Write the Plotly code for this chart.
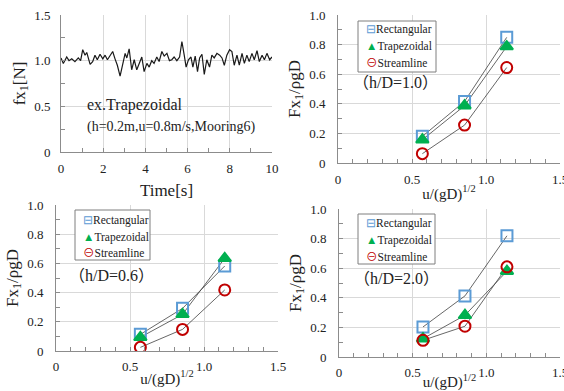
import plotly.graph_objects as go

# ---------------- data ----------------
time_s = [0.00,0.11,0.27,0.38,0.51,0.66,0.82,0.93,1.03,1.14,1.22,1.38,1.50,1.61,1.72,1.85,1.98,2.09,2.20,2.33,
          2.45,2.56,2.67,2.80,2.93,3.04,3.12,3.23,3.35,3.47,3.59,3.72,3.83,3.94,4.07,4.18,4.30,4.41,4.54,4.65,
          4.78,4.89,5.02,5.14,5.25,5.36,5.49,5.62,5.73,5.84,5.93,6.04,6.16,6.25,6.36,6.47,6.57,6.68,6.79,6.91,
          7.04,7.15,7.26,7.39,7.52,7.63,7.74,7.86,7.99,8.10,8.21,8.34,8.45,8.58,8.69,8.81,8.92,9.05,9.16,9.29,
          9.40,9.53,9.64,9.76,9.89,10.00]
fx1 = [1.03,0.97,1.04,1.00,1.02,0.99,1.03,1.00,1.12,1.06,1.09,0.96,0.99,1.06,1.01,1.07,1.02,1.06,1.01,1.06,
       1.10,1.02,0.95,0.83,0.95,1.08,1.03,1.13,0.90,1.01,0.90,0.97,1.04,0.88,0.97,0.93,1.00,0.97,1.04,0.99,
       1.10,1.05,1.08,1.00,1.01,1.04,1.00,1.04,1.21,1.06,0.93,1.01,1.04,0.93,1.05,0.88,1.03,1.07,0.85,1.01,
       0.93,1.06,1.03,1.08,1.06,1.03,0.95,1.06,1.12,1.10,0.95,1.06,0.95,1.08,0.97,1.06,0.99,1.08,1.01,1.11,
       0.99,1.06,1.01,1.08,1.01,1.04]

froude = [0.57, 0.855, 1.14]
series_names = ["Rectangular", "Trapezoidal", "Streamline"]

# h/D = 1.0
hd10_rect = [0.18, 0.416, 0.849]
hd10_trap = [0.157, 0.387, 0.787]
hd10_stream = [0.063, 0.256, 0.645]
# h/D = 0.6
hd06_rect = [0.114, 0.292, 0.582]
hd06_trap = [0.094, 0.251, 0.635]
hd06_stream = [0.025, 0.148, 0.418]
# h/D = 2.0
hd20_rect = [0.203, 0.413, 0.819]
hd20_trap = [0.124, 0.282, 0.58]
hd20_stream = [0.113, 0.208, 0.609]

panel_labels = ["（h/D=1.0）", "（h/D=0.6）", "（h/D=2.0）"]

time_ticks = [0, 2, 4, 6, 8, 10]
time_ticktext = ["0", "2", "4", "6", "8", "10"]
fx_ticks = [0, 0.5, 1.0, 1.5]
fx_ticktext = ["0", "0.5", "1.0", "1.5"]
u_ticks = [0, 0.5, 1.0, 1.5]
u_ticktext = ["0", "0.5", "1.0", "1.5"]
F_ticks = [0, 0.2, 0.4, 0.6, 0.8, 1.0]
F_ticktext = ["0", "0.2", "0.4", "0.6", "0.8", "1.0"]

# ---------------- styling ----------------
W, H = 564, 391
FONT = "Liberation Serif, Times New Roman, Noto Sans CJK JP, serif"
GRID = "#d9d9d9"
AX = "#8c8c8c"
TXT = "#222222"
colors = ["#5b9bd5", "#00b050", "#c00000"]
symbols = ["square-open", "triangle-up", "circle-open"]
legend_glyphs = ["⊟", "▲", "⊖"]


def dom_x(a, b):
    return [a / W, b / W]


def dom_y(top, bottom):
    return [1 - bottom / H, 1 - top / H]


fig = go.Figure()

# time series
fig.add_trace(go.Scatter(x=time_s, y=fx1, mode="lines", line=dict(color="#1a1a1a", width=1.2),
                         showlegend=False, xaxis="x", yaxis="y"))

panels = [
    ("x2", "y2", [hd10_rect, hd10_trap, hd10_stream]),
    ("x3", "y3", [hd06_rect, hd06_trap, hd06_stream]),
    ("x4", "y4", [hd20_rect, hd20_trap, hd20_stream]),
]
for xa, ya, data in panels:
    for vals in data:
        fig.add_trace(go.Scatter(x=froude, y=vals, mode="lines", line=dict(color="#404040", width=0.8),
                                 showlegend=False, xaxis=xa, yaxis=ya, hoverinfo="skip"))
    for i, vals in enumerate(data):
        fig.add_trace(go.Scatter(
            x=froude, y=vals, mode="markers", name=series_names[i], showlegend=False,
            marker=dict(symbol=symbols[i], size=11, color=colors[i],
                        line=dict(color=colors[i], width=2)),
            xaxis=xa, yaxis=ya))

tickfont = dict(family=FONT, size=13, color=TXT)


def axis(domain, rng, tickvals, ticktext, minor_dtick, title, title_size, standoff, anchor, **kw):
    d = dict(domain=domain, range=rng, tickmode="array", tickvals=tickvals, ticktext=ticktext,
             showgrid=True, gridcolor=GRID, gridwidth=1,
             showline=True, linecolor=AX, linewidth=1, ticks="inside", ticklen=4, tickcolor=AX,
             minor=dict(tickmode="linear", tick0=0, dtick=minor_dtick, ticks="inside", ticklen=4,
                        tickcolor=AX, showgrid=False),
             tickfont=tickfont, zeroline=False, anchor=anchor, automargin=False,
             ticklabeloverflow="allow",
             title=dict(text=title, font=dict(family=FONT, size=title_size, color=TXT), standoff=standoff))
    d.update(kw)
    return d


layout = dict(
    width=W, height=H, margin=dict(l=0, r=0, t=0, b=0),
    paper_bgcolor="white", plot_bgcolor="white",
    font=dict(family=FONT, color=TXT),
    showlegend=False,
    xaxis=axis(dom_x(61, 272), [0, 10], time_ticks, time_ticktext, 1, "Time[s]", 17, 9, "y",
               ticklabelstandoff=4),
    yaxis=axis(dom_y(15, 152), [0, 1.5], fx_ticks, fx_ticktext, 0.25, "fx<sub>1</sub>[N]", 17, 4, "x",
               ticklabelstandoff=7),
    xaxis2=axis(dom_x(338, 560), [0, 1.5], u_ticks, u_ticktext, 0.1, "u/(gD)<sup>1/2</sup>", 15, 2, "y2",
                ticklabelstandoff=4),
    yaxis2=axis(dom_y(15, 163), [0, 1.0], F_ticks, F_ticktext, 0.1, "Fx<sub>1</sub>/ρgD", 17, 4, "x2",
                ticklabelstandoff=9),
    xaxis3=axis(dom_x(56, 278), [0, 1.5], u_ticks, u_ticktext, 0.1, "u/(gD)<sup>1/2</sup>", 15, 0, "y3",
                ticklabelstandoff=3),
    yaxis3=axis(dom_y(205, 351), [0, 1.0], F_ticks, F_ticktext, 0.1, "Fx<sub>1</sub>/ρgD", 17, 4, "x3",
                ticklabelstandoff=9),
    xaxis4=axis(dom_x(339, 560), [0, 1.5], u_ticks, u_ticktext, 0.1, "u/(gD)<sup>1/2</sup>", 15, 2, "y4",
                ticklabelstandoff=3),
    yaxis4=axis(dom_y(209, 357), [0, 1.0], F_ticks, F_ticktext, 0.1, "Fx<sub>1</sub>/ρgD", 17, 4, "x4",
                ticklabelstandoff=9),
)
fig.update_layout(**layout)

# legends (box + entries), one per panel
legend_boxes = [(358, 21, 436, 72, [29, 46, 63]),
                (75, 210, 150, 260, [220, 237, 253]),
                (358, 214, 435, 264, [223, 240, 257])]
for (x0, y0, x1, y1, rows) in legend_boxes:
    fig.add_shape(type="rect", xref="paper", yref="paper", x0=x0 / W, x1=x1 / W, y0=1 - y1 / H, y1=1 - y0 / H,
                  line=dict(color="#7f7f7f", width=1), fillcolor="white", layer="above")
    for i, ry in enumerate(rows):
        txt = f"<span style='color:{colors[i]}'>{legend_glyphs[i]}</span>{series_names[i]}"
        fig.add_annotation(text=txt, x=(x0 + 6) / W, y=1 - ry / H, xref="paper", yref="paper",
                           xanchor="left", yanchor="middle", showarrow=False,
                           font=dict(family=FONT, size=11.5, color=TXT))

ann_font = dict(family=FONT, color=TXT)
fig.add_annotation(text="ex.Trapezoidal", x=85 / W, y=1 - 105 / H, xref="paper", yref="paper",
                   xanchor="left", yanchor="middle", showarrow=False, font=dict(size=16, **ann_font))
fig.add_annotation(text="(h=0.2m,u=0.8m/s,Mooring6)", x=85 / W, y=1 - 127 / H, xref="paper", yref="paper",
                   xanchor="left", yanchor="middle", showarrow=False, font=dict(size=14, **ann_font))
for label, (px, py) in zip(panel_labels, [(395, 82), (111, 275), (396, 278)]):
    fig.add_annotation(text=label, x=px / W, y=1 - py / H, xref="paper", yref="paper",
                       xanchor="center", yanchor="middle", showarrow=False, font=dict(size=16, **ann_font))

fig.write_html("out.html", config={"displayModeBar": False},
               post_script="document.body.style.margin='0';document.body.style.overflow='hidden';")
